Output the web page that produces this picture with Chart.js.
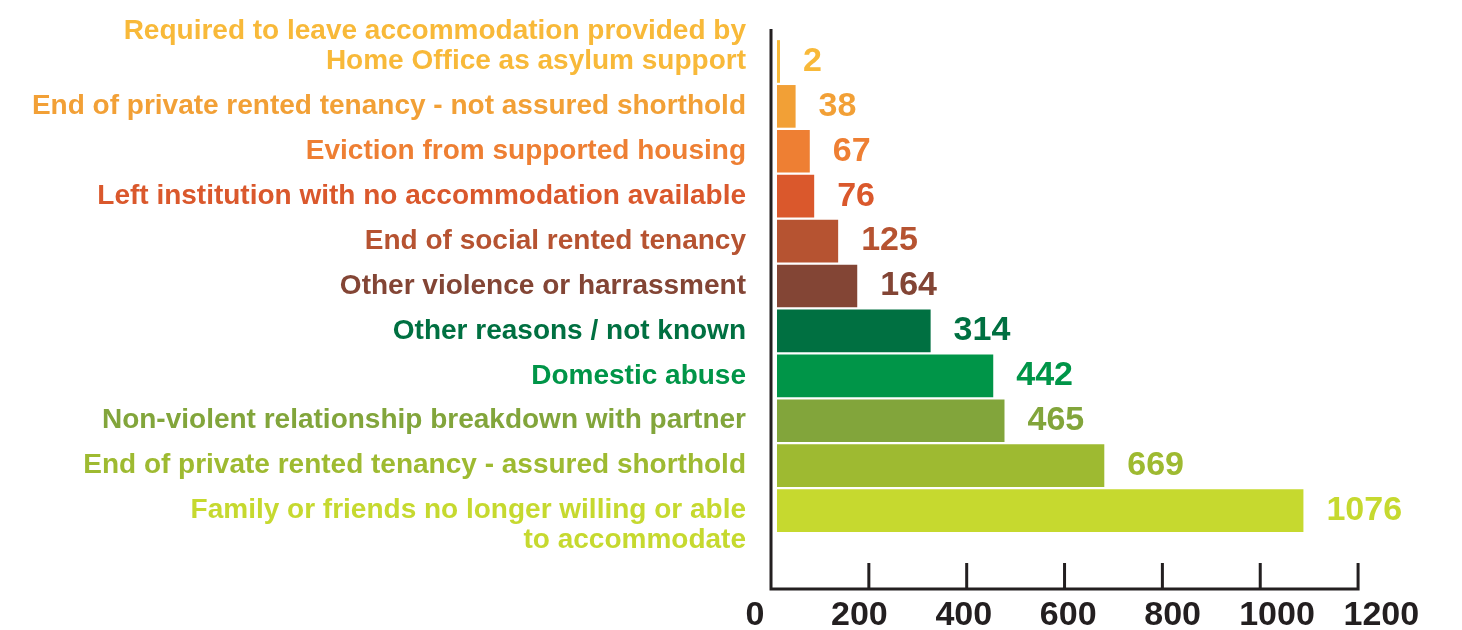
<!DOCTYPE html>
<html>
<head>
<meta charset="utf-8">
<script src="https://cdn.jsdelivr.net/npm/chart.js@4"></script>
<style>
  html, body { margin: 0; padding: 0; background: #fff; }
  #wrap { width: 1462px; height: 630px; position: relative; }
</style>
</head>
<body>
<div id="wrap"><canvas id="reasonsChart"></canvas></div>
<script>
// ===== DATA =====
const reasons = [
  ['Required to leave accommodation provided by', 'Home Office as asylum support'],
  'End of private rented tenancy - not assured shorthold',
  'Eviction from supported housing',
  'Left institution with no accommodation available',
  'End of social rented tenancy',
  'Other violence or harrassment',
  'Other reasons / not known',
  'Domestic abuse',
  'Non-violent relationship breakdown with partner',
  'End of private rented tenancy - assured shorthold',
  ['Family or friends no longer willing or able', 'to accommodate']
];
const counts = [2, 38, 67, 76, 125, 164, 314, 442, 465, 669, 1076];
const barColors = ['#f8b939', '#f2a036', '#ee7f33', '#da582c', '#b65331', '#834535',
                   '#007041', '#009548', '#82a53b', '#9eba31', '#c6d92f'];
const tickValues = [0, 200, 400, 600, 800, 1000, 1200];

const axisColor = '#231f20';
const fontFamily = '"Liberation Sans", Arial, Helvetica, sans-serif';

// ===== PLUGINS =====
// axis frame: vertical line, baseline and upward tick marks (sits a few px left of the bars)
const axisLines = {
  id: 'axisLines',
  afterDraw(chart) {
    const { ctx, chartArea, scales } = chart;
    const x = scales.x;
    const shift = 6;
    const left = x.getPixelForValue(0) - shift;
    const right = x.getPixelForValue(tickValues[tickValues.length - 1]) - shift;
    const base = chartArea.bottom + 56;
    ctx.save();
    ctx.strokeStyle = axisColor;
    ctx.lineWidth = 3;
    ctx.beginPath();
    ctx.moveTo(left, chartArea.top - 10);
    ctx.lineTo(left, base);
    ctx.lineTo(right, base);
    ctx.lineTo(right, base - 26);
    tickValues.slice(1, -1).forEach(v => {
      const px = x.getPixelForValue(v) - shift;
      ctx.moveTo(px, base);
      ctx.lineTo(px, base - 26);
    });
    ctx.stroke();
    ctx.restore();
  }
};

// value labels right of each bar
const valueLabels = {
  id: 'valueLabels',
  afterDatasetsDraw(chart) {
    const { ctx } = chart;
    const meta = chart.getDatasetMeta(0);
    ctx.save();
    ctx.font = 'bold 34px ' + fontFamily;
    ctx.textBaseline = 'middle';
    ctx.textAlign = 'left';
    meta.data.forEach((bar, i) => {
      ctx.fillStyle = barColors[i];
      ctx.fillText(String(counts[i]), bar.x + 23, bar.y);
    });
    ctx.restore();
  }
};

// ===== CHART =====
new Chart(document.getElementById('reasonsChart').getContext('2d'), {
  type: 'bar',
  data: {
    labels: reasons,
    datasets: [{
      data: counts,
      backgroundColor: barColors,
      borderWidth: 0,
      categoryPercentage: 1,
      barPercentage: 0.95,
      minBarLength: 3
    }]
  },
  options: {
    indexAxis: 'y',
    responsive: true,
    maintainAspectRatio: false,
    animation: false,
    layout: { padding: { top: 39, right: 42, bottom: 0, left: 0 } },
    plugins: { legend: { display: false }, tooltip: { enabled: false } },
    scales: {
      y: {
        grid: { display: false, drawTicks: false },
        border: { display: false },
        ticks: {
          padding: 4,
          autoSkip: false,
          color: ctx => barColors[ctx.index],
          font: { family: fontFamily, size: 28, weight: 'bold', lineHeight: 1.07 },
          callback(value, index) {
            const lab = reasons[index];
            if (!Array.isArray(lab)) return lab;
            // two-line labels: keep the line nearest the middle level with the bar
            return index < reasons.length / 2 ? [...lab, ''] : ['', ...lab];
          }
        },
        afterFit(scale) {
          scale.width = 750;
          scale.paddingTop = 0;
          scale.paddingBottom = 0;
        }
      },
      x: { display: false, min: -55.2, max: 1314.3 },
      xt: {
        type: 'linear',
        position: 'bottom',
        min: -9.6,
        max: 1274,
        grid: { display: false, drawTicks: false },
        border: { display: false },
        ticks: {
          padding: 66,
          autoSkip: false,
          maxRotation: 0,
          color: axisColor,
          font: { family: fontFamily, size: 34, weight: 'bold', lineHeight: 1 },
          callback: v => String(v)
        },
        afterBuildTicks(scale) { scale.ticks = tickValues.map(v => ({ value: v })); },
        afterFit(scale) {
          scale.height = 97;
          scale.paddingLeft = 0;
          scale.paddingRight = 0;
        }
      }
    }
  },
  plugins: [axisLines, valueLabels]
});
</script>
</body>
</html>
